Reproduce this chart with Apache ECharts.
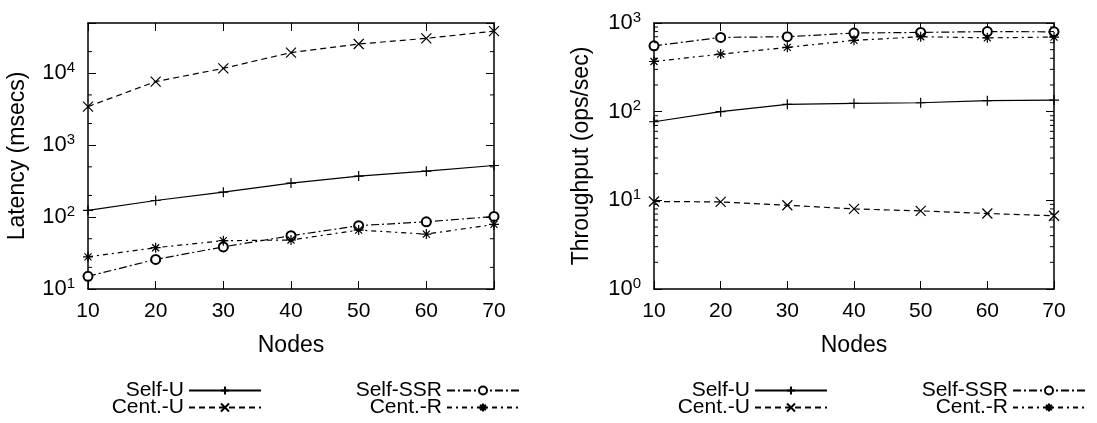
<!DOCTYPE html>
<html>
<head>
<meta charset="utf-8">
<script src="https://cdn.jsdelivr.net/npm/echarts@6/dist/echarts.min.js"></script>
<style>
html,body{margin:0;padding:0;background:#fff;}
#chart{width:1097px;height:423px;}
</style>
</head>
<body>
<div id="chart"></div>
<script>
// ---- data ----
const nodes = [10, 20, 30, 40, 50, 60, 70];
const seriesNames = ['Self-U', 'Cent.-U', 'Self-SSR', 'Cent.-R'];

// Latency (msecs)
const latSelfU   = [124, 170, 222, 297, 372, 435, 522];
const latCentU   = [3440, 7660, 11700, 19400, 25500, 30600, 38500];
const latSelfSSR = [15, 25.8, 38.5, 55, 76, 86, 102];
const latCentR   = [28, 37.5, 47, 48, 66, 58, 79];

// Throughput (ops/sec)
const thrSelfU   = [77, 100, 121, 124, 126, 133, 135];
const thrCentU   = [9.7, 9.6, 8.8, 8.0, 7.6, 7.1, 6.7];
const thrSelfSSR = [553, 688, 700, 771, 783, 800, 795];
const thrCentR   = [368, 446, 531, 637, 700, 680, 694];

// axis ranges / ticks
const latRange = [10, 50000];
const thrRange = [1, 1000];
const latMinorTicks = [20, 50, 200, 500, 2000, 5000, 20000];
const thrMinorTicks = [2, 3, 4, 5, 6, 7, 8, 9, 20, 30, 40, 50, 60, 70, 80, 90, 200, 300, 400, 500, 600, 700, 800, 900];

// ---- style ----
const FONT = 'Liberation Sans';
const BLACK = '#000';
const plusPath = 'path://M5,0L5,10M0,5L10,5';
const crossPath = 'path://M0,0L10,10M0,10L10,0';
const starPath = 'path://M5,0L5,10M0,5L10,5M1.5,1.5L8.5,8.5M1.5,8.5L8.5,1.5';

const styles = {
  'Self-U':   { symbol: plusPath,     dash: 'solid' },
  'Cent.-U':  { symbol: crossPath,    dash: [6, 4] },
  'Self-SSR': { symbol: 'emptyCircle', dash: [8, 3, 2, 3] },
  'Cent.-R':  { symbol: starPath,     dash: [5, 4, 2, 4] }
};

function makeSeries(name, values, gi) {
  const st = styles[name];
  return {
    name: name,
    type: 'line',
    xAxisIndex: gi * 2,
    yAxisIndex: gi * 2,
    data: nodes.map((n, i) => [n, values[i]]),
    symbol: st.symbol,
    symbolSize: st.symbol === 'emptyCircle' ? 9 : 10,
    showAllSymbol: true,
    animation: false,
    lineStyle: { color: BLACK, width: 1.2, type: st.dash },
    itemStyle: { color: BLACK, borderColor: BLACK, borderWidth: 1.2 },
    emphasis: { disabled: true },
    z: 3
  };
}

function minorTickSeries(ticks, gi) {
  return {
    type: 'custom',
    xAxisIndex: gi * 2,
    yAxisIndex: gi * 2,
    silent: true,
    animation: false,
    clip: false,
    data: ticks.map(v => [nodes[0], v]),
    encode: { x: 0, y: 1 },
    renderItem: function (params, api) {
      const v = api.value(1);
      const a = api.coord([nodes[0], v]);
      const b = api.coord([nodes[nodes.length - 1], v]);
      const L = 4;
      return {
        type: 'group',
        children: [
          { type: 'line', shape: { x1: a[0], y1: a[1], x2: a[0] + L, y2: a[1] }, style: { stroke: BLACK, lineWidth: 1 } },
          { type: 'line', shape: { x1: b[0], y1: b[1], x2: b[0] - L, y2: b[1] }, style: { stroke: BLACK, lineWidth: 1 } }
        ]
      };
    },
    z: 4
  };
}

function supFormatter(v) {
  const e = Math.round(Math.log10(v));
  if (Math.abs(Math.pow(10, e) - v) > 1e-6 * v) return '';
  return '{b|10}{s|' + e + '}';
}

const axisLineStyle = { show: true, lineStyle: { color: BLACK, width: 1.5 } };

function xAxes(gi) {
  return [
    {
      gridIndex: gi, type: 'value', min: nodes[0], max: nodes[nodes.length - 1], interval: 10,
      position: 'bottom',
      axisLine: axisLineStyle,
      axisTick: { show: true, inside: true, length: 8, lineStyle: { color: BLACK, width: 1 } },
      axisLabel: { fontSize: 21, fontFamily: FONT, color: BLACK, margin: 12 },
      splitLine: { show: false },
      name: 'Nodes', nameLocation: 'middle', nameGap: 45,
      nameTextStyle: { fontSize: 23, fontFamily: FONT, color: BLACK }
    },
    {
      gridIndex: gi, type: 'value', min: nodes[0], max: nodes[nodes.length - 1], interval: 10,
      position: 'top',
      axisLine: axisLineStyle,
      axisTick: { show: true, inside: true, length: 8, lineStyle: { color: BLACK, width: 1 } },
      axisLabel: { show: false },
      splitLine: { show: false }
    }
  ];
}

function yAxes(gi, range, name, gap) {
  return [
    {
      gridIndex: gi, type: 'log', logBase: 10, min: range[0], max: range[1],
      position: 'left',
      axisLine: axisLineStyle,
      axisTick: { show: true, inside: true, length: 8, lineStyle: { color: BLACK, width: 1 } },
      axisLabel: {
        formatter: supFormatter, margin: 13,
        rich: {
          b: { fontSize: 22, fontFamily: FONT, color: BLACK, lineHeight: 26 },
          s: { fontSize: 15, fontFamily: FONT, color: BLACK, verticalAlign: 'top', lineHeight: 15 }
        }
      },
      splitLine: { show: false },
      minorTick: { show: false },
      name: name, nameLocation: 'middle', nameGap: gap,
      nameTextStyle: { fontSize: 23, fontFamily: FONT, color: BLACK }
    },
    {
      gridIndex: gi, type: 'log', logBase: 10, min: range[0], max: range[1],
      position: 'right',
      axisLine: axisLineStyle,
      axisTick: { show: true, inside: true, length: 8, lineStyle: { color: BLACK, width: 1 } },
      axisLabel: { show: false },
      splitLine: { show: false }
    }
  ];
}

// legends
const legendRows = [380, 397];
const legendRightCols = [[835, 577], [269, 11]];
const legends = [];
[0, 1].forEach(gi => {
  seriesNames.forEach((nm, k) => {
    const col = (k === 0 || k === 1) ? 0 : 1;
    const row = (k === 0 || k === 2) ? 0 : 1;
    legends.push({
      data: [nm],
      right: legendRightCols[gi][col],
      top: legendRows[row],
      align: 'right',
      orient: 'horizontal',
      itemWidth: 72,
      itemHeight: 10,
      padding: 0,
      selectedMode: false,
      textStyle: { fontSize: 21, fontFamily: FONT, color: BLACK }
    });
  });
});

const option = {
  backgroundColor: '#fff',
  animation: false,
  grid: [
    { left: 88, right: 1097 - 494, top: 23, bottom: 423 - 289 },
    { left: 654, right: 1097 - 1054, top: 23, bottom: 423 - 289 }
  ],
  xAxis: [...xAxes(0), ...xAxes(1)],
  yAxis: [...yAxes(0, latRange, 'Latency (msecs)', 59), ...yAxes(1, thrRange, 'Throughput (ops/sec)', 61)],
  legend: legends,
  series: [
    makeSeries('Self-U', latSelfU, 0),
    makeSeries('Cent.-U', latCentU, 0),
    makeSeries('Self-SSR', latSelfSSR, 0),
    makeSeries('Cent.-R', latCentR, 0),
    makeSeries('Self-U', thrSelfU, 1),
    makeSeries('Cent.-U', thrCentU, 1),
    makeSeries('Self-SSR', thrSelfSSR, 1),
    makeSeries('Cent.-R', thrCentR, 1),
    minorTickSeries(latMinorTicks, 0),
    minorTickSeries(thrMinorTicks, 1)
  ]
};

const chart = echarts.init(document.getElementById('chart'), null, { renderer: 'canvas' });
chart.setOption(option);
</script>
</body>
</html>
